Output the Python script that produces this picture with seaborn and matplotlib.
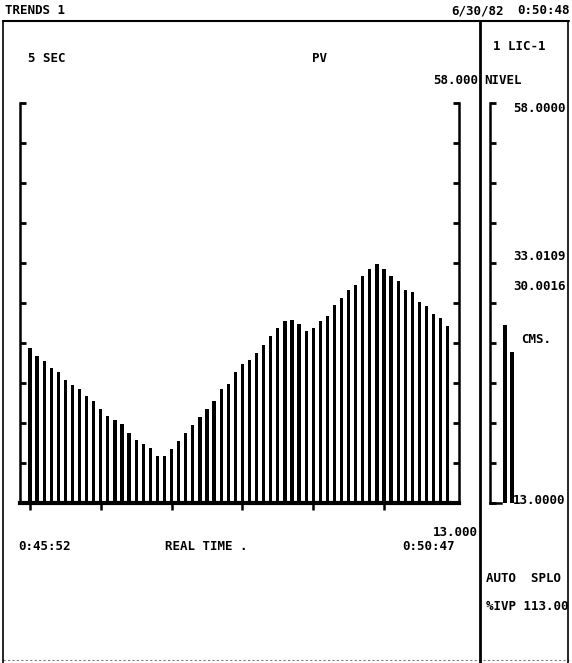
import matplotlib
matplotlib.use("Agg")
import matplotlib.pyplot as plt
from matplotlib.lines import Line2D
import seaborn as sns
import pandas as pd

# trend samples (PV, nivel), 5 sec apart
pv = [30.4, 29.5, 29.0, 28.2, 27.7, 26.8, 26.3, 25.8, 25.0, 24.5,
      23.6, 22.8, 22.3, 21.9, 20.9, 20.1, 19.6, 19.2, 18.3, 18.3,
      19.1, 20.0, 20.9, 21.8, 22.7, 23.6, 24.5, 25.8, 26.4, 27.7,
      28.6, 29.1, 29.9, 30.8, 31.8, 32.7, 33.5, 33.6, 33.1, 32.3,
      32.7, 33.5, 34.0, 35.3, 36.1, 37.0, 37.5, 38.5, 39.3, 39.9,
      39.3, 38.5, 38.0, 37.0, 36.7, 35.6, 35.2, 34.3, 33.8, 32.9]
scale_lo, scale_hi = 13.0, 58.0
bar_vals = [33.0109, 30.0016]
bar_names = ["SP", "PV"]

W, H = 572, 663
sns.set_style("white")
plt.rcParams["font.family"] = ["DejaVu Sans Mono", "DejaVu Sans"]
plt.rcParams["font.weight"] = "bold"

fig = plt.figure(figsize=(W / 100, H / 100), dpi=100)
fig.patch.set_facecolor("white")


def box(x0, y0, x1, y1):
    # pixel box (top-left origin) -> figure fraction
    return [x0 / W, 1 - y1 / H, (x1 - x0) / W, (y1 - y0) / H]


def put(x, y, s, ha="left", size=9):
    fig.text(x / W, 1 - y / H, s, ha=ha, va="center", fontsize=size,
             fontweight="bold", color="black")


def hline(x0, x1, y, lw=1.5, **kw):
    fig.add_artist(Line2D([x0 / W, x1 / W], [1 - y / H, 1 - y / H],
                          transform=fig.transFigure, color="black", lw=lw, **kw))


def vline(x, y0, y1, lw=1.5, **kw):
    fig.add_artist(Line2D([x / W, x / W], [1 - y0 / H, 1 - y1 / H],
                          transform=fig.transFigure, color="black", lw=lw, **kw))


# main trend
df = pd.DataFrame({"t": range(len(pv)), "pv": pv})
ax = fig.add_axes(box(20, 103, 459, 503))
sns.barplot(data=df, x="t", y="pv", color="black", saturation=1,
            width=0.46, linewidth=0, errorbar=None, ax=ax)
ax.set_ylim(scale_lo, scale_hi)
ax.set_xlim(-1.41, 60.59)
ax.set_xlabel("")
ax.set_ylabel("")
ax.set_yticks([scale_lo + i * 4.5 for i in range(11)])
ax.set_yticklabels([])
ax.set_xticks(range(0, 60, 10))
ax.set_xticklabels([])
ax.tick_params(axis="y", which="both", direction="in", length=4.5, width=2,
               left=True, right=True, colors="black")
ax.tick_params(axis="x", direction="out", length=5, width=1.8, bottom=True,
               colors="black")
ax.spines["top"].set_visible(False)
for s in ["left", "right"]:
    ax.spines[s].set_linewidth(1.8)
    ax.spines[s].set_color("black")
ax.spines["bottom"].set_linewidth(3)
ax.spines["bottom"].set_color("black")
ax.patch.set_alpha(0)

# side bar graph
bd = pd.DataFrame({"k": bar_names, "v": bar_vals})
ax2 = fig.add_axes(box(490, 103, 516, 503))
sns.barplot(data=bd, x="k", y="v", color="black", saturation=1,
            width=0.55, linewidth=0, errorbar=None, ax=ax2)
ax2.set_ylim(scale_lo, scale_hi)
ax2.set_xlim(-2.14, 1.57)
ax2.set_xlabel("")
ax2.set_ylabel("")
ax2.set_yticks([scale_lo + i * 4.5 for i in range(11)])
ax2.set_yticklabels([])
ax2.set_xticks([])
ax2.tick_params(axis="y", direction="in", length=4, width=2, left=True,
                colors="black")
for s in ["top", "right"]:
    ax2.spines[s].set_visible(False)
ax2.spines["left"].set_linewidth(1.8)
ax2.spines["bottom"].set_linewidth(1.8)
ax2.spines["left"].set_color("black")
ax2.spines["bottom"].set_color("black")
ax2.spines["bottom"].set_bounds(-2.14, -0.6)
ax2.patch.set_alpha(0)

# screen frame
hline(3, 569, 21, lw=1.5)
vline(3, 21, 663, lw=1.2)
vline(480, 21, 663, lw=2)
vline(568, 21, 663, lw=1.2)
hline(3, 569, 660, lw=0.8, linestyle=(0, (2, 2)), alpha=0.5)

# texts
put(5, 11, "TRENDS 1")
put(451, 11, "6/30/82")
put(570, 11, "0:50:48", ha="right")
put(28, 59, "5 SEC")
put(312, 59, "PV")
put(493, 47, "1 LIC-1")
put(478, 81, "58.000", ha="right")
put(484, 81, "NIVEL")
put(513, 108, "58.0000")
put(513, 256, "33.0109")
put(513, 287, "30.0016")
put(521, 340, "CMS.")
put(513, 500, "13.0000")
put(478, 532, "13.000", ha="right")
put(18, 547, "0:45:52")
put(165, 547, "REAL TIME .")
put(455, 546, "0:50:47", ha="right")
put(486, 579, "AUTO  SPLO")
put(486, 607, "%IVP 113.00")

fig.savefig("out.png", dpi=100, facecolor="white")
